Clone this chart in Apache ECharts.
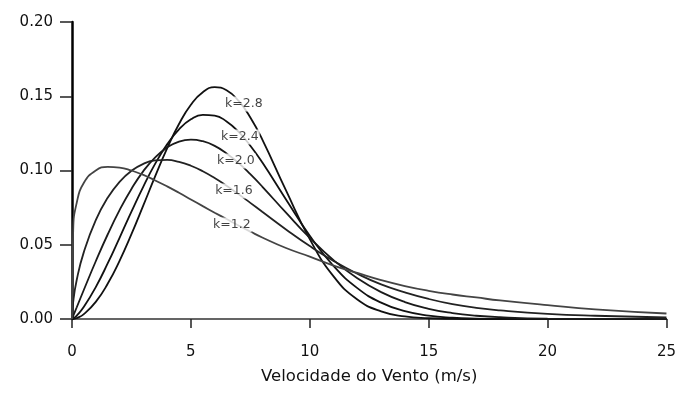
<!DOCTYPE html>
<html>
<head>
<meta charset="utf-8">
<script src="https://cdn.jsdelivr.net/npm/echarts@6/dist/echarts.min.js"></script>
<style type="text/css">
html,body{margin:0;padding:0;background:#fff;}
#chart{width:679px;height:403px;}
</style>
</head>
<body>
<div id="chart"></div>
<script type="text/javascript">
// velocidade (m/s)
var vel = [0, 0.05, 0.2, 0.5, 1, 1.5, 2, 2.5, 3, 3.5, 4, 4.5, 5, 5.5, 6, 6.5, 7, 7.5, 8, 9, 10, 11, 12, 13, 14, 15, 16, 17, 18, 20, 22, 25];
// densidade, uma lista por k
var k28 = [0, 0.0000, 0.0006, 0.0033, 0.0115, 0.0237, 0.0392, 0.0571, 0.0765, 0.0962, 0.1149, 0.1313, 0.1443, 0.1527, 0.1561, 0.1541, 0.1470, 0.1357, 0.1210, 0.0866, 0.0538, 0.0287, 0.0131, 0.0051, 0.0017, 0.0005, 0.0001, 0, 0, 0, 0, 0];
var k24 = [0, 0.0003, 0.0023, 0.0082, 0.0215, 0.0374, 0.0547, 0.0723, 0.0892, 0.1046, 0.1176, 0.1277, 0.1345, 0.1375, 0.1370, 0.1330, 0.1261, 0.1167, 0.1055, 0.0805, 0.0561, 0.0357, 0.0208, 0.0110, 0.0053, 0.0023, 0.0009, 0.0003, 0.0001, 0, 0, 0];
var k20 = [0, 0.0020, 0.0079, 0.0197, 0.0389, 0.0569, 0.0733, 0.0876, 0.0996, 0.1089, 0.1155, 0.1195, 0.1208, 0.1197, 0.1166, 0.1115, 0.1051, 0.0975, 0.0892, 0.0716, 0.0546, 0.0396, 0.0274, 0.0181, 0.0114, 0.0069, 0.0040, 0.0022, 0.0012, 0.0003, 0.0001, 0];
var k16 = [0, 0.0115, 0.0264, 0.0452, 0.0666, 0.0816, 0.0924, 0.0998, 0.1045, 0.1068, 0.1071, 0.1058, 0.1032, 0.0995, 0.0949, 0.0897, 0.0841, 0.0782, 0.0722, 0.0603, 0.0491, 0.0391, 0.0305, 0.0233, 0.0180, 0.0135, 0.0100, 0.0075, 0.0058, 0.0035, 0.0022, 0.0010];
var k12 = [0, 0.0600, 0.0784, 0.0917, 0.1000, 0.1024, 0.1020, 0.1000, 0.0970, 0.0933, 0.0893, 0.0850, 0.0805, 0.0760, 0.0716, 0.0673, 0.0630, 0.0589, 0.0549, 0.0478, 0.0420, 0.0360, 0.0310, 0.0262, 0.0222, 0.0190, 0.0165, 0.0145, 0.0125, 0.0093, 0.0065, 0.0037];

// rotulos das curvas: texto e posicao (x, y) sobre a curva
var labelText = ['k=2.8', 'k=2.4', 'k=2.0', 'k=1.6', 'k=1.2'];
var labelX = [7.23, 7.06, 6.89, 6.81, 6.72];
var labelY = [0.1448, 0.1226, 0.1064, 0.0862, 0.0633];

var xTicks = [0, 5, 10, 15, 20, 25];
var yTicks = [0, 0.05, 0.10, 0.15, 0.20];

function pares(ys) {
    var out = [];
    for (var i = 0; i < vel.length; i++) out.push([vel[i], ys[i]]);
    return out;
}

var font = 'DejaVu Sans';
var chart = echarts.init(document.getElementById('chart'));

var curvas = [k28, k24, k20, k16, k12];
var cores = ['#111', '#111', '#1a1a1a', '#222', '#444'];
var series = [];
for (var i = 0; i < curvas.length; i++) {
    series.push({
        name: labelText[i],
        type: 'line',
        data: pares(curvas[i]),
        smooth: 0.5,
        symbol: 'none',
        lineStyle: {color: cores[i], width: 1.8},
        z: 2
    });
}

var rotulos = [];
for (var j = 0; j < labelText.length; j++) {
    rotulos.push({value: [labelX[j], labelY[j]], name: labelText[j]});
}
series.push({
    type: 'scatter',
    data: rotulos,
    symbolSize: 0,
    z: 5,
    label: {
        show: true,
        position: 'inside',
        formatter: '{b}',
        fontFamily: font,
        fontSize: 12.5,
        color: '#111',
        backgroundColor: '#fff',
        padding: [1, 1]
    }
});

var option = {
    animation: false,
    backgroundColor: '#fff',
    grid: {left: 72, right: 12, top: 22, bottom: 84},
    xAxis: {
        type: 'value',
        min: xTicks[0],
        max: xTicks[xTicks.length - 1],
        interval: 5,
        name: 'Velocidade do Vento (m/s)',
        nameLocation: 'middle',
        nameGap: 49,
        nameTextStyle: {fontFamily: font, fontSize: 16.5, color: '#111'},
        axisLine: {lineStyle: {color: '#333', width: 1.5}},
        axisTick: {show: true, length: 9, lineStyle: {color: '#222', width: 1.5}},
        axisLabel: {margin: 26, fontFamily: font, fontSize: 15, color: '#111'},
        splitLine: {show: false}
    },
    yAxis: {
        type: 'value',
        min: yTicks[0],
        max: yTicks[yTicks.length - 1],
        interval: 0.05,
        axisLine: {show: true, lineStyle: {color: '#000', width: 2.5}},
        axisTick: {show: true, length: 12, lineStyle: {color: '#222', width: 1.5}},
        axisLabel: {
            margin: 19,
            fontFamily: font,
            fontSize: 15,
            color: '#111',
            formatter: function (v) { return v.toFixed(2); }
        },
        splitLine: {show: false}
    },
    series: series
};
chart.setOption(option);
</script>
</body>
</html>
